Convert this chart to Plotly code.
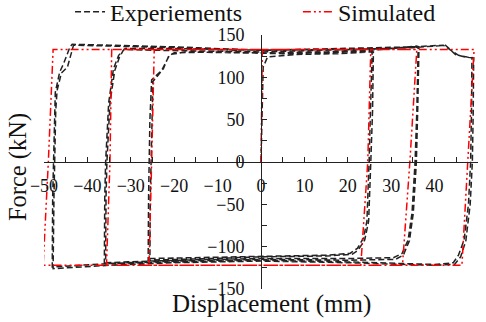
import plotly.graph_objects as go

# Experimental hysteresis (displacement in mm, force in kN)
exp_disp = [
    0, 0.2, 0.5, 1.5, 8, 18, 25.3,
    25.6, 25.3, 24.9, 24.4, 23.6, 22.2, 20.5, 15, 5, -5, -15, -24.5,
    -25.6, -25.5, -25.2, -24.9, -23, -21.8, -21, -17, -5, 5, 15, 25.5,
    25.9, 25.7, 25.3, 24.8, 23.9, 22.4, 21, 15, 0, -15, -25,
    -26, -25.9, -25.6, -25.2, -22.5, -21.3, -20, -10, 0, 15, 25, 35.5,
    36.2, 35.9, 35.5, 34.8, 33.9, 32.5, 30.5, 20, 0, -20, -34.5,
    -35.8, -35.7, -35.5, -34.8, -33.7, -32.6, -31.6, -25, -10, 0, 15, 30, 35.8,
    36.4, 36.1, 35.8, 35.1, 34.2, 32.8, 31, 20, 0, -20, -35,
    -36.1, -36, -35.8, -35.1, -34, -32.8, -31.3, -20, 0, 20, 35, 42.5,
    44.8, 47, 48.6, 48.5, 48.3, 47.8, 46.8, 45.5, 44.3, 40, 20, 0, -20, -35, -45, -47.8,
    -48.1, -48, -47.8, -47.6, -47.4, -46.4, -45.5, -44, -43.5, -35, -20, 0, 20, 35, 42,
    45.5, 47.5, 49, 48.9, 48.7, 48.2, 47.2, 46, 44.6, 40, 20, 0, -20, -35, -45, -47.5,
    -47.9, -47.7, -47.5, -47.3, -47, -46, -44.6, -43.2, -35, -20, -5,
]
exp_force = [
    0, 60, 112, 124, 127, 128, 130,
    129, 60, 0, -70, -90, -102, -108, -110, -111, -112, -113, -114,
    -114, -40, 50, 95, 107, 120, 127, 130, 129, 128, 129, 131,
    130, 60, 0, -70, -92, -104, -109, -111, -112, -114, -116,
    -116, -40, 50, 97, 110, 125, 129, 130, 129, 130, 132, 136,
    135, 60, 0, -60, -92, -108, -113, -114, -114, -116, -119,
    -119, -40, 0, 70, 108, 124, 133, 132, 131, 130, 132, 134, 137,
    136, 60, 0, -60, -93, -110, -115, -116, -115, -117, -120,
    -120, -40, 0, 70, 110, 126, 134, 134, 132, 133, 135, 138,
    127, 124, 123, 60, 0, -50, -92, -110, -119, -121, -118, -116, -118, -120, -123, -124,
    -124, -40, 0, 60, 82, 106, 116, 136, 139, 138, 136, 132, 134, 136, 138,
    126, 124, 123, 60, 0, -50, -93, -112, -121, -122, -119, -117, -119, -122, -125, -126,
    -126, -40, 0, 60, 84, 105, 112, 138, 137, 135, 132,
]

# Numerical model response
sim_disp = [
    0, 0.3, 25.3, 24.6, 23.0, -25.8, -25.2, -24.6,
    35.9, 34.3, 32.6, -35.6, -34.8, -34.4,
    49.1, 47.7, 46.3, -50.2, -49.0, -47.9, 10,
]
sim_force = [
    0, 133, 133, 0, -122, -122, 0, 133,
    133, 0, -122, -122, 0, 133,
    133, 0, -122, -122, 0, 133, 133,
]

x_ticks = [-50, -40, -30, -20, -10, 0, 10, 20, 30, 40, 50]
y_ticks = [-150, -100, -50, 0, 50, 100, 150]

SERIF = "Liberation Serif, Times New Roman, serif"
INK = "#111111"

fig = go.Figure()
fig.add_trace(go.Scatter(
    x=exp_disp, y=exp_force, mode="lines", name="Experiements", legend="legend",
    line=dict(color="#222222", width=1.5, dash="6px,3px"),
))
fig.add_trace(go.Scatter(
    x=sim_disp, y=sim_force, mode="lines", name="Simulated", legend="legend2",
    line=dict(color="#ff0000", width=1.5, dash="8px,3px,2px,3px,2px,3px"),
))

axis_common = dict(
    showgrid=False, zeroline=False, showline=True, linecolor="#222222", linewidth=1,
    ticks="inside", ticklen=5, tickcolor="#222222", tickwidth=1,
    tickfont=dict(family=SERIF, size=18, color=INK),
    anchor="free", position=0.5,
)

legend_common = dict(orientation="h", xanchor="left", y=1.09, yanchor="middle",
                     font=dict(family=SERIF, size=24, color=INK),
                     bgcolor="rgba(0,0,0,0)")

fig.update_layout(
    width=486, height=322,
    margin=dict(l=44, r=8, t=35, b=33, autoexpand=False),
    paper_bgcolor="white", plot_bgcolor="white",
    font=dict(family=SERIF, color=INK),
    xaxis=dict(range=[-50, 50], tickvals=x_ticks,
               minor=dict(dtick=5, ticks="inside", ticklen=5, tickcolor="#222222"),
               ticklabelstandoff=7, **axis_common),
    yaxis=dict(range=[-150, 150], tickvals=y_ticks,
               minor=dict(dtick=25, ticks="inside", ticklen=5, tickcolor="#222222"),
               ticklabelstandoff=13, **axis_common),
    legend=dict(x=0.06, **legend_common),
    legend2=dict(x=0.585, **legend_common),
    showlegend=True,
    annotations=[
        dict(text="Force (kN)", xref="paper", yref="paper", x=-0.06, y=0.48,
             textangle=-90, showarrow=False, xanchor="center", yanchor="middle",
             font=dict(family=SERIF, size=24.5, color=INK)),
        dict(text="Displacement (mm)", xref="paper", yref="paper", x=0.524, y=-0.059,
             showarrow=False, xanchor="center", yanchor="middle",
             font=dict(family=SERIF, size=25, color=INK)),
    ],
)

fig.write_html("out.html")
